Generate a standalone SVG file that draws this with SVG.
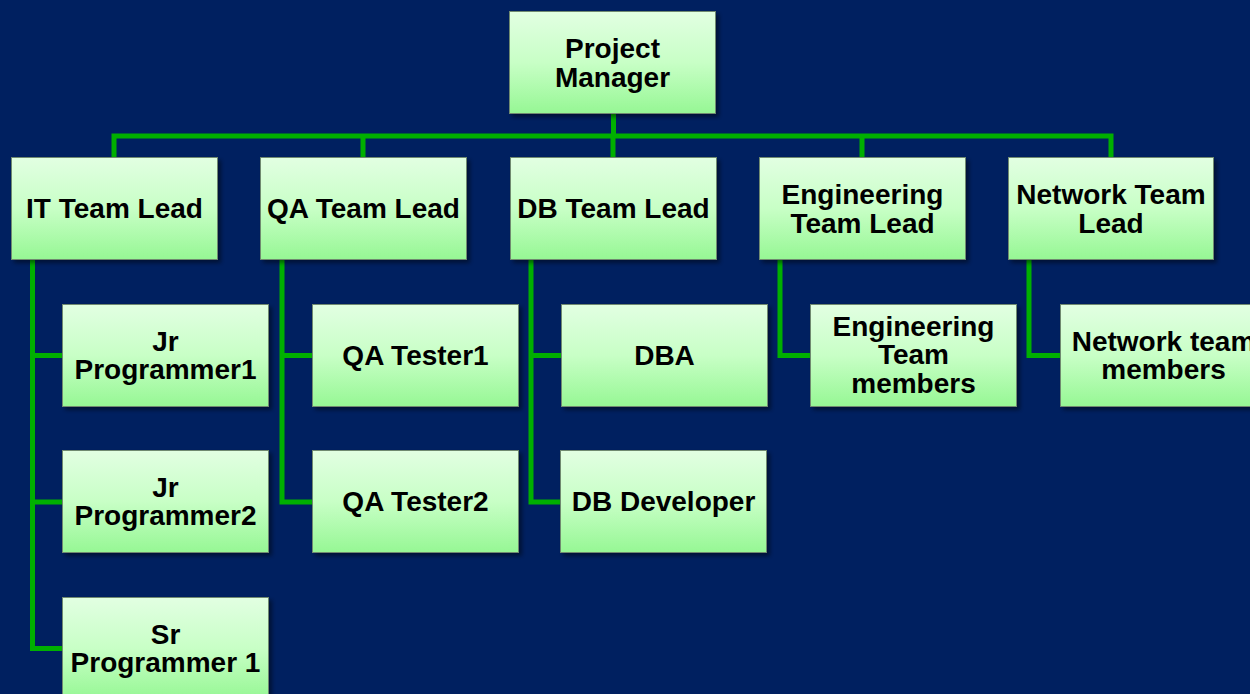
<svg xmlns="http://www.w3.org/2000/svg" width="1250" height="694" viewBox="0 0 1250 694">
  <defs>
    <linearGradient id="boxGrad" x1="0" y1="0" x2="0" y2="1">
      <stop offset="0" stop-color="#e2ffe2"/>
      <stop offset="0.5" stop-color="#c8ffc6"/>
      <stop offset="1" stop-color="#96f794"/>
    </linearGradient>
    <filter id="shadow" x="-10%" y="-10%" width="130%" height="140%">
      <feDropShadow dx="3" dy="3" stdDeviation="2" flood-color="#000000" flood-opacity="0.45"/>
    </filter>
  </defs>
  <style>
    .box { fill: url(#boxGrad); stroke: #6f8a6f; stroke-width: 1; filter: url(#shadow); }
    .lbl { font-family: "Liberation Sans", Arial, sans-serif; font-weight: bold; font-size: 28px; fill: #000000; text-anchor: middle; }
    .conn { fill: none; stroke: #00b000; stroke-width: 5; stroke-linejoin: miter; stroke-linecap: butt; }
  </style>
  <rect x="0" y="0" width="1250" height="694" fill="#002060"/>

  <g id="connectors">
    <path class="conn" d="M613.5 114 V136"/>
    <path class="conn" d="M114 157 V136 H1111 V157"/>
    <path class="conn" d="M363 136 V157"/>
    <path class="conn" d="M613 136 V157"/>
    <path class="conn" d="M862 136 V157"/>
    <path class="conn" d="M32.5 260 V648.5 H62"/>
    <path class="conn" d="M32.5 355.5 H62"/>
    <path class="conn" d="M32.5 502 H62"/>
    <path class="conn" d="M282 260 V502 H312"/>
    <path class="conn" d="M282 355.5 H312"/>
    <path class="conn" d="M531 260 V502 H561"/>
    <path class="conn" d="M531 355.5 H561"/>
    <path class="conn" d="M780 260 V355.5 H810"/>
    <path class="conn" d="M1029 260 V355.5 H1060"/>
  </g>

  <g id="project-manager">
    <rect class="box" x="509.5" y="11.5" width="206" height="102"/>
    <text class="lbl" x="612.5" y="57.5">Project</text>
    <text class="lbl" x="612.5" y="86.5">Manager</text>
  </g>

  <g id="it-team-lead">
    <rect class="box" x="11.5" y="157.5" width="206" height="102"/>
    <text class="lbl" x="114.5" y="218">IT Team Lead</text>
  </g>
  <g id="qa-team-lead">
    <rect class="box" x="260.5" y="157.5" width="206" height="102"/>
    <text class="lbl" x="363.5" y="218">QA Team Lead</text>
  </g>
  <g id="db-team-lead">
    <rect class="box" x="510.5" y="157.5" width="206" height="102"/>
    <text class="lbl" x="613.5" y="218">DB Team Lead</text>
  </g>
  <g id="engineering-team-lead">
    <rect class="box" x="759.5" y="157.5" width="206" height="102"/>
    <text class="lbl" x="862.5" y="203.5">Engineering</text>
    <text class="lbl" x="862.5" y="232.5">Team Lead</text>
  </g>
  <g id="network-team-lead">
    <rect class="box" x="1008.5" y="157.5" width="205" height="102"/>
    <text class="lbl" x="1111" y="203.5">Network Team</text>
    <text class="lbl" x="1111" y="232.5">Lead</text>
  </g>

  <g id="jr-programmer1">
    <rect class="box" x="62.5" y="304.5" width="206" height="102"/>
    <text class="lbl" x="165.5" y="350.5">Jr</text>
    <text class="lbl" x="165.5" y="379">Programmer1</text>
  </g>
  <g id="jr-programmer2">
    <rect class="box" x="62.5" y="450.5" width="206" height="102"/>
    <text class="lbl" x="165.5" y="496.5">Jr</text>
    <text class="lbl" x="165.5" y="525">Programmer2</text>
  </g>
  <g id="sr-programmer1">
    <rect class="box" x="62.5" y="597.5" width="206" height="102"/>
    <text class="lbl" x="165.5" y="643.5">Sr</text>
    <text class="lbl" x="165.5" y="672">Programmer 1</text>
  </g>

  <g id="qa-tester1">
    <rect class="box" x="312.5" y="304.5" width="206" height="102"/>
    <text class="lbl" x="415.5" y="365">QA Tester1</text>
  </g>
  <g id="qa-tester2">
    <rect class="box" x="312.5" y="450.5" width="206" height="102"/>
    <text class="lbl" x="415.5" y="511">QA Tester2</text>
  </g>

  <g id="dba">
    <rect class="box" x="561.5" y="304.5" width="206" height="102"/>
    <text class="lbl" x="664.5" y="365">DBA</text>
  </g>
  <g id="db-developer">
    <rect class="box" x="560.5" y="450.5" width="206" height="102"/>
    <text class="lbl" x="663.5" y="511">DB Developer</text>
  </g>

  <g id="engineering-team-members">
    <rect class="box" x="810.5" y="304.5" width="206" height="102"/>
    <text class="lbl" x="913.5" y="335.5">Engineering</text>
    <text class="lbl" x="913.5" y="364">Team</text>
    <text class="lbl" x="913.5" y="392.5">members</text>
  </g>

  <g id="network-team-members">
    <rect class="box" x="1060.5" y="304.5" width="206" height="102"/>
    <text class="lbl" x="1163.5" y="350.5">Network team</text>
    <text class="lbl" x="1163.5" y="379">members</text>
  </g>
</svg>
